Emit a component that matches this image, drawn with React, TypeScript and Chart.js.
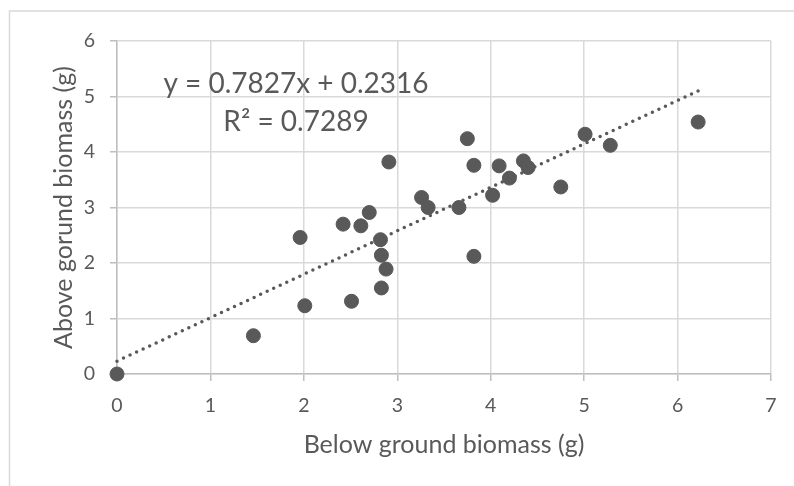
import React, { useEffect, useRef } from "react";
import { Chart, registerables } from "chart.js";

Chart.register(...registerables);

// Below ground biomass (g)
const belowGround: number[] = [
  0, 1.46, 1.96, 2.01, 2.42, 2.51, 2.61, 2.7, 2.82, 2.83, 2.88, 2.83, 2.91, 3.26,
  3.33, 3.66, 3.75, 3.82, 3.82, 4.02, 4.09, 4.2, 4.35, 4.4, 4.75, 5.01, 5.28, 6.22,
];
// Above ground biomass (g)
const aboveGround: number[] = [
  0, 0.69, 2.46, 1.23, 2.7, 1.31, 2.67, 2.91, 2.42, 2.14, 1.89, 1.55, 3.82, 3.18,
  3.0, 3.0, 4.24, 3.76, 2.12, 3.22, 3.75, 3.53, 3.84, 3.72, 3.37, 4.32, 4.12, 4.54,
];

const slope = 0.7827;
const intercept = 0.2316;
const rSquared = 0.7289;

const xTitle = "Below ground biomass (g)";
const yTitle = "Above gorund biomass (g)";
const equationLine = `y = ${slope}x + ${intercept}`;
const rSquaredLine = `R² = ${rSquared}`;

const FONT = "Lato, 'Open Sans', sans-serif";
const TEXT_COLOR = "#595959";

export default function App() {
  const canvasRef = useRef<HTMLCanvasElement | null>(null);

  useEffect(() => {
    const canvas = canvasRef.current;
    if (!canvas) return;

    const points = belowGround.map((x, i) => ({ x, y: aboveGround[i] }));
    const xMin = Math.min(...belowGround);
    const xMax = Math.max(...belowGround);
    const trend = [
      { x: xMin, y: slope * xMin + intercept },
      { x: xMax, y: slope * xMax + intercept },
    ];

    const decor = {
      id: "decor",
      beforeDraw(chart: any) {
        const ctx = chart.ctx;
        ctx.save();
        ctx.fillStyle = "#ffffff";
        ctx.fillRect(0, 0, chart.width, chart.height);
        ctx.strokeStyle = "#d9d9d9";
        ctx.lineWidth = 1.5;
        ctx.strokeRect(9.5, 11, chart.width + 20, chart.height + 20);
        ctx.restore();
      },
      afterDatasetsDraw(chart: any) {
        const ctx = chart.ctx;
        const area = chart.chartArea;
        ctx.save();
        ctx.fillStyle = TEXT_COLOR;
        // equation text
        ctx.font = `28px ${FONT}`;
        ctx.textAlign = "center";
        ctx.textBaseline = "alphabetic";
        ctx.fillText(equationLine, 296, 93);
        ctx.fillText(rSquaredLine, 296, 131);
        // x title
        ctx.font = `25px ${FONT}`;
        ctx.fillText(xTitle, (area.left + area.right) / 2, 453);
        // y title
        ctx.translate(72, (area.top + area.bottom) / 2);
        ctx.rotate(-Math.PI / 2);
        ctx.fillText(yTitle, 0, 0);
        ctx.restore();
      },
    };

    const chart = new Chart(canvas, {
      type: "scatter",
      data: {
        datasets: [
          {
            label: "Trend",
            data: trend,
            type: "line",
            showLine: true,
            borderColor: "#595959",
            borderWidth: 3.5,
            borderDash: [0, 7.2],
            borderCapStyle: "round",
            pointRadius: 0,
            fill: false,
            clip: false,
            order: 0,
          } as any,
          {
            label: "Biomass",
            data: points,
            backgroundColor: "#595959",
            borderColor: "#595959",
            borderWidth: 1,
            pointRadius: 7,
            clip: false,
            order: 1,
          } as any,
        ],
      },
      options: {
        responsive: false,
        animation: false,
        layout: { padding: { left: 0, top: 41, right: 23, bottom: 0 } },
        plugins: {
          legend: { display: false },
          tooltip: { enabled: false },
          title: { display: false },
        },
        scales: {
          x: {
            type: "linear",
            min: 0,
            max: 7,
            ticks: {
              stepSize: 1,
              color: TEXT_COLOR,
              font: { family: FONT, size: 19.5 },
              padding: 13,
            },
            grid: {
              color: "#d9d9d9",
              lineWidth: 1.5,
              tickLength: 7,
              tickColor: "#bfbfbf",
            },
            border: { color: "#bfbfbf", width: 1.5 },
            afterFit(scale: any) {
              scale.height = 112;
            },
          },
          y: {
            type: "linear",
            min: 0,
            max: 6,
            ticks: {
              stepSize: 1,
              color: TEXT_COLOR,
              font: { family: FONT, size: 19.5 },
              padding: 15,
            },
            grid: {
              color: "#d9d9d9",
              lineWidth: 1.5,
              tickLength: 7,
              tickColor: "#bfbfbf",
            },
            border: { color: "#bfbfbf", width: 1.5 },
            afterFit(scale: any) {
              scale.width = 117;
            },
          },
        },
      },
      plugins: [decor],
    });

    return () => chart.destroy();
  }, []);

  return (
    <div style={{ position: "absolute", left: 0, top: 0, width: 794, height: 486, background: "#fff" }}>
      <canvas ref={canvasRef} width={794} height={486} style={{ width: 794, height: 486, display: "block" }} />
    </div>
  );
}
